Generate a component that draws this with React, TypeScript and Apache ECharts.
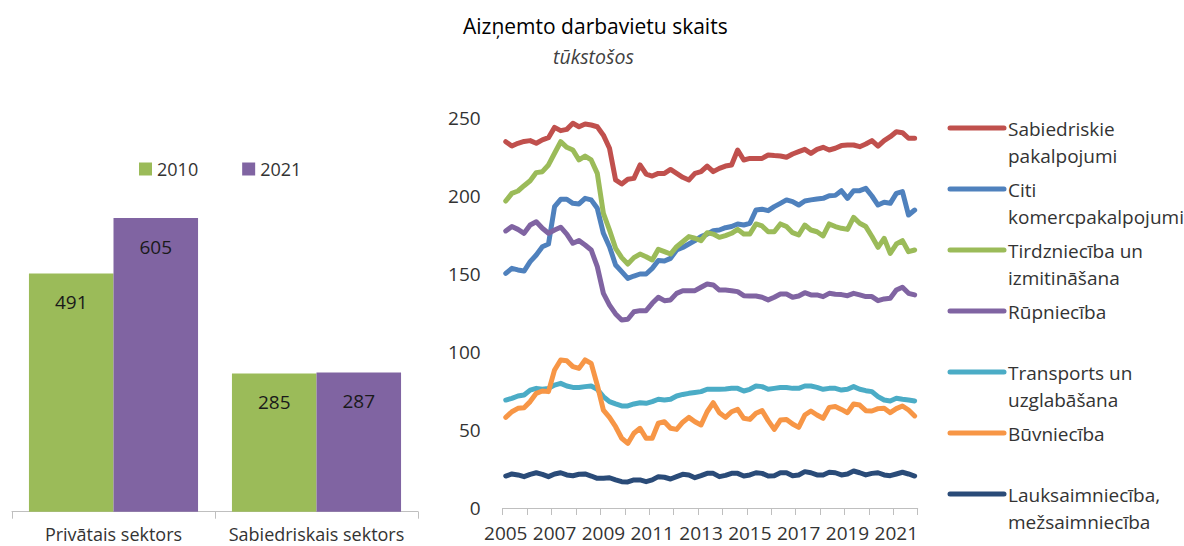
import React, { useEffect, useRef } from 'react';
import * as echarts from 'echarts';

const FONT = '"Open Sans", "Noto Sans", sans-serif';
const TEXT = '#333333';

// Left panel: bars
const barCategories = ['Privātais sektors', 'Sabiedriskais sektors'];
const barYears = ['2010', '2021'];
const bars2010 = [491, 285];
const bars2021 = [605, 287];
const barColors = ['#9BBB59', '#8064A2'];

// Right panel: quarterly lines 2005 Q1 – 2021 Q4
const START_YEAR = 2005;
const END_YEAR = 2021;
const quarters: string[] = [];
for (let y = START_YEAR; y <= END_YEAR; y++) for (let q = 1; q <= 4; q++) quarters.push(`${y} Q${q}`);

const sabiedriskie = [234.8, 232, 233.8, 235, 235.5, 233.8, 236, 237.4, 244, 241.9, 242.7, 246.6, 244.4, 246.2, 245.5, 244.4, 239, 230.6, 210.3, 207.7, 210.7, 211.3, 219.9, 214.1, 212.8, 214.5, 214.5, 217, 214.5, 212, 210.3,
  214.5, 215.6, 219.2, 215.6, 217.7, 219.2, 219.9, 229.5, 223.1, 224.1, 224.1, 224.1, 226.3, 225.9, 225.6, 224.8, 226.9, 228.4, 229.9, 227.3, 229.9, 231.2, 229.5, 230.6, 232.3, 232.7, 232.7, 231.6, 233.3, 235.5, 232, 235.5, 238, 241.2, 240.6, 237, 237];
const citi = [150.4, 153.6, 152.6, 151.9, 157.9, 162.2, 167.5, 169.2, 193.2, 197.9, 197.9, 195.3, 194.9, 198.5, 197.5, 192.1, 176.1, 167.5, 155.8, 151.5, 147.2, 148.7, 150, 150, 153.6, 158.6, 158.3, 160, 165.4,
  167, 169.2, 171.4, 174, 175.6, 177.8, 178.2, 179.7, 180.4, 182.1, 181.4, 182.5, 191, 191.5, 190.6, 193.2, 195.3, 197.5, 196.4, 194.2, 196.8, 197.5, 198.1, 198.5, 200.2, 200.4, 203.4, 198.5, 203.4, 203.4, 204.9, 200, 194.2, 196, 195.3, 201.7, 202.8, 187.8, 191];
const tirdznieciba = [196.8, 201.7, 203.2, 206.6, 209.8, 215, 215.6, 219.9, 227.4, 234.8, 231.2, 229.5, 223.1, 225.6, 223.1, 214.5, 188.9, 178.2, 166.5, 160.5, 156.4, 160.5, 162.8, 161.1, 159, 165.8, 164.3, 162.8, 167.5,
  170.7, 174, 172.9, 171.4, 176.5, 175.6, 173.5, 174.6, 176.1, 178.6, 175.6, 175.6, 182.1, 180.8, 177.1, 177.1, 182.1, 180.4, 176.5, 175, 181.4, 178.2, 177.1, 174.4, 182.1, 180.4, 179.3, 178.6, 186.3, 182.5, 180.4, 174, 167.1, 172.9, 163.2, 169.2, 171.4, 164.3, 165.4];
const rupnieciba = [177.6, 180.4, 178.6, 176.1, 181.4, 183.5, 179.3, 176.1, 178.2, 180, 175.6, 169.7, 171.4, 168.6, 165.4, 154.7, 137.6, 130.1, 124.4, 120.5, 121, 125.8, 126.5, 126.5, 131.2, 135.1, 132.9, 133.4, 137.6, 139.3, 139.3,
  139.3, 141.5, 143.6, 143, 139.7, 139.7, 139.3, 138.7, 136.1, 135.9, 135.9, 135.1, 133.4, 135.1, 137.2, 137.2, 135.1, 135.9, 138, 136.6, 136.6, 135.5, 137.6, 137, 136.8, 136.1, 137.6, 136.6, 135.5, 135.5, 132.9, 134, 134.4, 139.7, 141.5, 137.6, 136.6];
const transports = [69.2, 70.3, 71.8, 72.4, 75.6, 76.7, 76.1, 76.7, 78.8, 79.9, 78.2, 77.3, 77.3, 77.8, 78.2, 76.1, 71.4, 68.2, 66.7, 65.4, 65.4, 66.7, 67.5, 67.1, 68.2, 69.7, 69.2, 69.7, 71.8, 72.8,
  73.5, 74.1, 74.6, 76.1, 76.1, 76.1, 76.3, 76.7, 76.7, 75, 76.1, 78.2, 77.8, 76.1, 76.7, 77.3, 77.3, 76.7, 76.7, 78.2, 78.2, 77.3, 76.1, 76.7, 76.7, 75.6, 76.1, 77.8, 76.1, 75.2, 74.6, 71.4, 69.2, 68.6, 70.3, 69.7, 69.2, 68.6];
const buvnieciba = [58.1, 61.7, 63.9, 64.3, 68.2, 73.5, 75, 74.6, 88.5, 94.9, 94.4, 90.6, 89.5, 94.9, 92.7, 78.8, 62.8, 58.1, 52.1, 44.7, 41.4, 47.9, 51.1, 44.7, 44.7, 54.3, 55.3, 51.1, 50.4,
  55, 58.1, 55.3, 53.2, 61.7, 67.5, 61.1, 58.1, 61.7, 63.2, 57.5, 56.8, 60.7, 62.4, 56, 50.4, 56.4, 56.8, 53.8, 51.7, 59.6, 62.2, 59.6, 57.5, 64.5, 65, 63.2, 61.1, 66.7, 66, 62.4, 62.2, 63.7, 63.9, 61.1, 63.7, 65.4, 62.8, 59];
const lauksaimnieciba = [20.5, 21.8, 21.2, 20.1, 21.6, 22.6, 21.6, 20.1, 21.8, 22.6, 21.2, 20.7, 21.6, 21.8, 20.5, 19, 19, 19.4, 18, 16.9, 16.7, 18, 18, 16.9, 18, 20.1, 19.7, 18.6, 20.1, 21.6,
  21.2, 19.4, 20.7, 22.2, 22.2, 20.1, 20.9, 22.2, 22.2, 20.5, 21.2, 22.6, 22.2, 20.5, 20.7, 22.6, 22.6, 20.7, 21.2, 23.3, 22.6, 21.2, 21.2, 22.9, 22.6, 21.2, 21.8, 23.7, 22.6, 21.2, 22.2, 22.6, 21.2, 20.7, 21.8, 22.9, 21.8, 20.5];

const lineNames = ['Sabiedriskie pakalpojumi', 'Citi komercpakalpojumi', 'Tirdzniecība un izmitināšana', 'Rūpniecība', 'Transports un uzglabāšana', 'Būvniecība', 'Lauksaimniecība, mežsaimniecība'];
const lineLegendLabels = ['Sabiedriskie\npakalpojumi', 'Citi\nkomercpakalpojumi', 'Tirdzniecība un\nizmitināšana', 'Rūpniecība', 'Transports un\nuzglabāšana', 'Būvniecība', 'Lauksaimniecība,\nmežsaimniecība'];
const lineData = [sabiedriskie, citi, tirdznieciba, rupnieciba, transports, buvnieciba, lauksaimnieciba];
const lineColors = ['#C0504D', '#4F81BD', '#9BBB59', '#8064A2', '#4BACC6', '#F79646', '#2A4B78'];

export default function App() {
  const ref = useRef<HTMLDivElement>(null);
  useEffect(() => {
    if (!ref.current) return;
    const chart = echarts.init(ref.current, undefined, { renderer: 'svg' });

    const legendGraphics: any[] = [];
    lineLegendLabels.forEach((label, i) => {
      const y = 128 + 61 * i;
      legendGraphics.push({
        type: 'line',
        shape: { x1: 950, y1: y, x2: 1004, y2: y },
        style: { stroke: lineColors[i], lineWidth: 5, lineCap: 'round' },
        silent: true,
      });
      legendGraphics.push({
        type: 'text',
        x: 1008,
        y: y - 13,
        style: {
          text: label,
          fontFamily: FONT,
          fontSize: 19,
          lineHeight: 27,
          fill: TEXT,
          verticalAlign: 'top',
          align: 'left',
        },
        silent: true,
      });
    });

    const option: any = {
      animation: false,
      backgroundColor: '#ffffff',
      textStyle: { fontFamily: FONT },
      title: [
        {
          text: 'Aizņemto darbavietu skaits',
          left: 463,
          top: 15,
          padding: 0,
          textStyle: { fontFamily: FONT, fontSize: 21, fontWeight: 'normal', color: '#000000' },
        },
        {
          text: 'tūkstošos',
          left: 553,
          top: 46,
          padding: 0,
          textStyle: { fontFamily: FONT, fontSize: 19.5, fontStyle: 'italic', fontWeight: 'normal', color: '#404040' },
        },
      ],
      legend: {
        data: barYears,
        left: 139,
        top: 160,
        padding: 0,
        icon: 'rect',
        itemWidth: 13,
        itemHeight: 13,
        itemGap: 44,
        textStyle: { fontFamily: FONT, fontSize: 18, color: TEXT },
        selectedMode: false,
      },
      graphic: legendGraphics,
      grid: [
        { left: 12, top: 172, width: 406, height: 339.7, containLabel: false },
        { left: 502.7, top: 118, width: 415, height: 390, containLabel: false },
      ],
      xAxis: [
        {
          type: 'category',
          gridIndex: 0,
          data: barCategories,
          axisLine: { lineStyle: { color: '#BFBFBF', width: 1 } },
          axisTick: { show: true, length: 7, lineStyle: { color: '#BFBFBF' } },
          axisLabel: { fontFamily: FONT, fontSize: 18, color: TEXT, margin: 13, interval: 0 },
        },
        {
          type: 'category',
          gridIndex: 1,
          data: quarters,
          boundaryGap: true,
          axisLine: { lineStyle: { color: '#BFBFBF', width: 1 } },
          axisTick: { show: true, length: 7, interval: 3, lineStyle: { color: '#BFBFBF' } },
          axisLabel: {
            fontFamily: FONT,
            fontSize: 19,
            color: TEXT,
            margin: 15,
            interval: 7,
            formatter: (v: string) => v.slice(0, 4),
          },
        },
      ],
      yAxis: [
        {
          type: 'value',
          gridIndex: 0,
          min: 0,
          max: 700,
          show: false,
          splitLine: { show: false },
        },
        {
          type: 'value',
          gridIndex: 1,
          min: 0,
          max: 250,
          interval: 50,
          axisLine: { show: false },
          axisTick: { show: false },
          splitLine: { show: false },
          axisLabel: { fontFamily: FONT, fontSize: 19, color: TEXT, margin: 22 },
        },
      ],
      series: [
        {
          name: barYears[0],
          type: 'bar',
          xAxisIndex: 0,
          yAxisIndex: 0,
          data: bars2010,
          barGap: '0%',
          barCategoryGap: '16.7%',
          itemStyle: { color: barColors[0] },
          label: { show: true, position: 'insideTop', distance: 19, fontFamily: FONT, fontSize: 19, color: '#1a1a1a' },
        },
        {
          name: barYears[1],
          type: 'bar',
          xAxisIndex: 0,
          yAxisIndex: 0,
          data: bars2021,
          barGap: '0%',
          barCategoryGap: '16.7%',
          itemStyle: { color: barColors[1] },
          label: { show: true, position: 'insideTop', distance: 19, fontFamily: FONT, fontSize: 19, color: '#1a1a1a' },
        },
        ...lineNames.map((name, i) => ({
          name,
          type: 'line',
          xAxisIndex: 1,
          yAxisIndex: 1,
          data: lineData[i],
          showSymbol: false,
          symbol: 'none',
          smooth: false,
          lineStyle: { color: lineColors[i], width: 5, cap: 'round', join: 'round' },
          itemStyle: { color: lineColors[i] },
        })),
      ],
    };
    chart.setOption(option);
    return () => chart.dispose();
  }, []);

  return (
    <div
      ref={ref}
      style={{ position: 'fixed', left: 0, top: 0, width: 1184, height: 546, background: '#fff' }}
    />
  );
}
